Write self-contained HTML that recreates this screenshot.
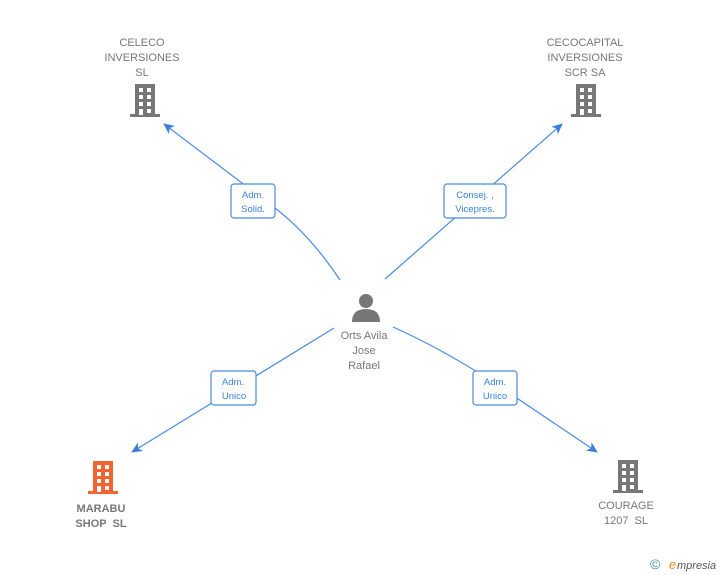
<!DOCTYPE html>
<html><head><meta charset="utf-8"><style>
html,body{margin:0;padding:0;background:#fff;width:728px;height:575px;overflow:hidden}
svg{display:block}
text{font-family:"Liberation Sans",Arial,sans-serif}
</style></head><body>
<svg width="728" height="575" viewBox="0 0 728 575" xmlns="http://www.w3.org/2000/svg">
<defs>
<g id="bld">
<rect x="-10" y="0" width="20" height="31" fill="currentColor"/>
<rect x="-15" y="30" width="30" height="3" fill="currentColor"/>
<g fill="#fff">
<rect x="-6" y="4" width="4" height="4"/><rect x="2" y="4" width="4" height="4"/>
<rect x="-6" y="11" width="4" height="4"/><rect x="2" y="11" width="4" height="4"/>
<rect x="-6" y="18" width="4" height="4"/><rect x="2" y="18" width="4" height="4"/>
<rect x="-6" y="25" width="4" height="6"/><rect x="2" y="25" width="4" height="4"/>
</g>
</g>
<marker id="ar" markerWidth="12" markerHeight="10" refX="10" refY="5" orient="auto" markerUnits="userSpaceOnUse">
<path d="M0,0 L11,5 L0,10 L3,5 Z" fill="#3a7fe0"/>
</marker>
</defs>
<g fill="none" stroke="#4a8ae3" stroke-width="1.2">
<path d="M340,280 Q310,235 275,208 L164,124" marker-end="url(#ar)"/>
<path d="M385,279 L562,124" marker-end="url(#ar)"/>
<path d="M334,328 L132,452" marker-end="url(#ar)"/>
<path d="M393,327 Q440,348 490,380 L597,452" marker-end="url(#ar)"/>
</g>
<g fill="#fff" stroke="#4a8ae3" stroke-width="1.2">
<rect x="231" y="184" width="44" height="34" rx="3"/>
<rect x="444" y="184" width="62" height="34" rx="3"/>
<rect x="211" y="371" width="45" height="34" rx="3"/>
<rect x="473" y="371" width="44" height="34" rx="3"/>
</g>
<g fill="#3a7fe0" font-size="9.5" text-anchor="middle">
<text x="253" y="198">Adm.</text><text x="253" y="212">Solid.</text>
<text x="475" y="198">Consej. ,</text><text x="475" y="212">Vicepres.</text>
<text x="233" y="385">Adm.</text><text x="234" y="399">Unico</text>
<text x="495" y="385">Adm.</text><text x="495" y="399">Unico</text>
</g>
<use href="#bld" x="145" y="84" style="color:#777"/>
<use href="#bld" x="586" y="84" style="color:#777"/>
<use href="#bld" x="103" y="461" style="color:#f26532"/>
<use href="#bld" x="628" y="460" style="color:#777"/>
<g fill="#777">
<circle cx="366" cy="301" r="7"/>
<path d="M352,322 Q352,309 366,309 Q380,309 380,322 Z"/>
</g>
<g fill="#777" font-size="11" text-anchor="middle">
<text x="142" y="46">CELECO</text><text x="142" y="61">INVERSIONES</text><text x="142" y="76">SL</text>
<text x="585" y="46">CECOCAPITAL</text><text x="585" y="61">INVERSIONES</text><text x="585" y="76">SCR SA</text>
<text x="364" y="339">Orts Avila</text><text x="364" y="354">Jose</text><text x="364" y="369">Rafael</text>
<text x="626" y="509">COURAGE</text><text x="626" y="524">1207 &#160;SL</text>
<g font-weight="bold"><text x="101" y="512">MARABU</text><text x="101" y="527">SHOP &#160;SL</text></g>
</g>
<text x="650" y="569" font-size="14" fill="#3a8fb0">©</text>
<text x="669" y="569" font-size="13" font-style="italic" fill="#f28a1c" font-family="Liberation Serif,serif">e</text>
<text x="677" y="569" font-size="11" font-style="italic" fill="#555">mpresia</text>
</svg>
</body></html>
